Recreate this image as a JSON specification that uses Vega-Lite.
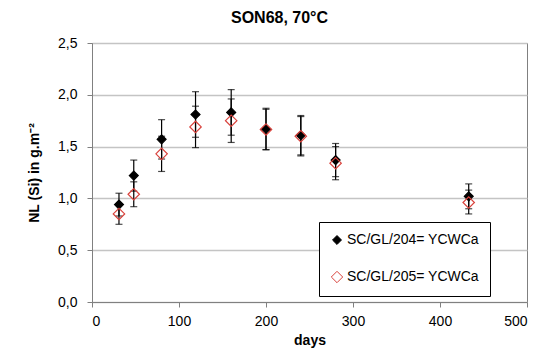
{
  "$schema": "https://vega.github.io/schema/vega-lite/v6.json",
  "width": 435,
  "height": 259,
  "autosize": {"type": "none"},
  "padding": {"left": 92, "top": 43, "right": 17, "bottom": 52},
  "background": "white",
  "title": {"text": "SON68, 70°C", "fontSize": 16, "fontWeight": "bold", "color": "black", "anchor": "middle", "dx": -30, "offset": 10},
  "config": {
    "font": "Liberation Sans",
    "view": {"stroke": "#808080", "strokeWidth": 1},
    "axisX": {"domainColor": "#808080", "tickColor": "#808080", "tickSize": 5, "labelFontSize": 14, "labelColor": "black", "grid": false, "labelPadding": 7, "titleFontSize": 14, "titleFontWeight": "bold", "titleColor": "black", "titlePadding": 5},
    "axisY": {"domainColor": "#808080", "tickColor": "#808080", "tickSize": 5, "labelFontSize": 14, "labelColor": "black", "grid": true, "gridColor": "#c4c4c4", "gridWidth": 1.5, "labelPadding": 10, "titleFontSize": 14, "titleFontWeight": "bold", "titleColor": "black", "titlePadding": 16},
    "legend": {"orient": "none", "legendX": 227, "legendY": 179, "padding": 11, "rowPadding": 22, "labelFontSize": 14, "labelColor": "black", "symbolType": "diamond", "symbolStrokeWidth": 1, "strokeColor": "black", "fillColor": "white", "labelOffset": 3, "titlePadding": 0}
  },
  "data": {
    "values": [
      {"days": 31, "series": "SC/GL/204= YCWCa", "nl": 0.94, "lo": 0.83, "hi": 1.05},
      {"days": 48, "series": "SC/GL/204= YCWCa", "nl": 1.22, "lo": 1.07, "hi": 1.37},
      {"days": 80, "series": "SC/GL/204= YCWCa", "nl": 1.57, "lo": 1.38, "hi": 1.76},
      {"days": 119, "series": "SC/GL/204= YCWCa", "nl": 1.81, "lo": 1.59, "hi": 2.03},
      {"days": 160, "series": "SC/GL/204= YCWCa", "nl": 1.83, "lo": 1.61, "hi": 2.05},
      {"days": 200, "series": "SC/GL/204= YCWCa", "nl": 1.67, "lo": 1.47, "hi": 1.87},
      {"days": 240, "series": "SC/GL/204= YCWCa", "nl": 1.61, "lo": 1.42, "hi": 1.8},
      {"days": 280, "series": "SC/GL/204= YCWCa", "nl": 1.37, "lo": 1.21, "hi": 1.53},
      {"days": 433, "series": "SC/GL/204= YCWCa", "nl": 1.02, "lo": 0.9, "hi": 1.14},
      {"days": 31, "series": "SC/GL/205= YCWCa", "nl": 0.85, "lo": 0.75, "hi": 0.95},
      {"days": 48, "series": "SC/GL/205= YCWCa", "nl": 1.04, "lo": 0.92, "hi": 1.16},
      {"days": 80, "series": "SC/GL/205= YCWCa", "nl": 1.43, "lo": 1.26, "hi": 1.6},
      {"days": 119, "series": "SC/GL/205= YCWCa", "nl": 1.69, "lo": 1.49, "hi": 1.89},
      {"days": 160, "series": "SC/GL/205= YCWCa", "nl": 1.75, "lo": 1.54, "hi": 1.96},
      {"days": 200, "series": "SC/GL/205= YCWCa", "nl": 1.665, "lo": 1.47, "hi": 1.86},
      {"days": 240, "series": "SC/GL/205= YCWCa", "nl": 1.6, "lo": 1.41, "hi": 1.79},
      {"days": 280, "series": "SC/GL/205= YCWCa", "nl": 1.34, "lo": 1.18, "hi": 1.5},
      {"days": 433, "series": "SC/GL/205= YCWCa", "nl": 0.96, "lo": 0.85, "hi": 1.08}
    ]
  },
  "encoding": {
    "x": {"field": "days", "type": "quantitative", "scale": {"domain": [0, 500], "nice": false}, "axis": {"values": [0, 100, 200, 300, 400, 500], "title": "days"}}
  },
  "layer": [
    {
      "mark": {"type": "rule", "color": "black", "strokeWidth": 1.2},
      "encoding": {
        "y": {"field": "lo", "type": "quantitative", "scale": {"domain": [0, 2.5], "nice": false}, "title": "NL (Si) in g.m⁻²", "axis": {"values": [0, 0.5, 1, 1.5, 2, 2.5], "labelExpr": "replace(format(datum.value, '.1f'), '.', ',')"}},
        "y2": {"field": "hi"}
      }
    },
    {
      "mark": {"type": "tick", "color": "black", "orient": "horizontal", "size": 7, "thickness": 1.2},
      "encoding": {"y": {"field": "lo", "type": "quantitative", "title": "NL (Si) in g.m⁻²"}}
    },
    {
      "mark": {"type": "tick", "color": "black", "orient": "horizontal", "size": 7, "thickness": 1.2},
      "encoding": {"y": {"field": "hi", "type": "quantitative", "title": "NL (Si) in g.m⁻²"}}
    },
    {
      "mark": {"type": "point", "shape": "diamond", "filled": true, "opacity": 1, "strokeWidth": 1.2},
      "encoding": {
        "y": {"field": "nl", "type": "quantitative", "title": "NL (Si) in g.m⁻²"},
        "fill": {"field": "series", "type": "nominal", "title": null, "scale": {"domain": ["SC/GL/204= YCWCa", "SC/GL/205= YCWCa"], "range": ["black", "transparent"]}},
        "stroke": {"field": "series", "type": "nominal", "title": null, "scale": {"domain": ["SC/GL/204= YCWCa", "SC/GL/205= YCWCa"], "range": ["black", "#d9423c"]}},
        "size": {"field": "series", "type": "nominal", "title": null, "scale": {"domain": ["SC/GL/204= YCWCa", "SC/GL/205= YCWCa"], "range": [80, 130]}}
      }
    }
  ]
}
